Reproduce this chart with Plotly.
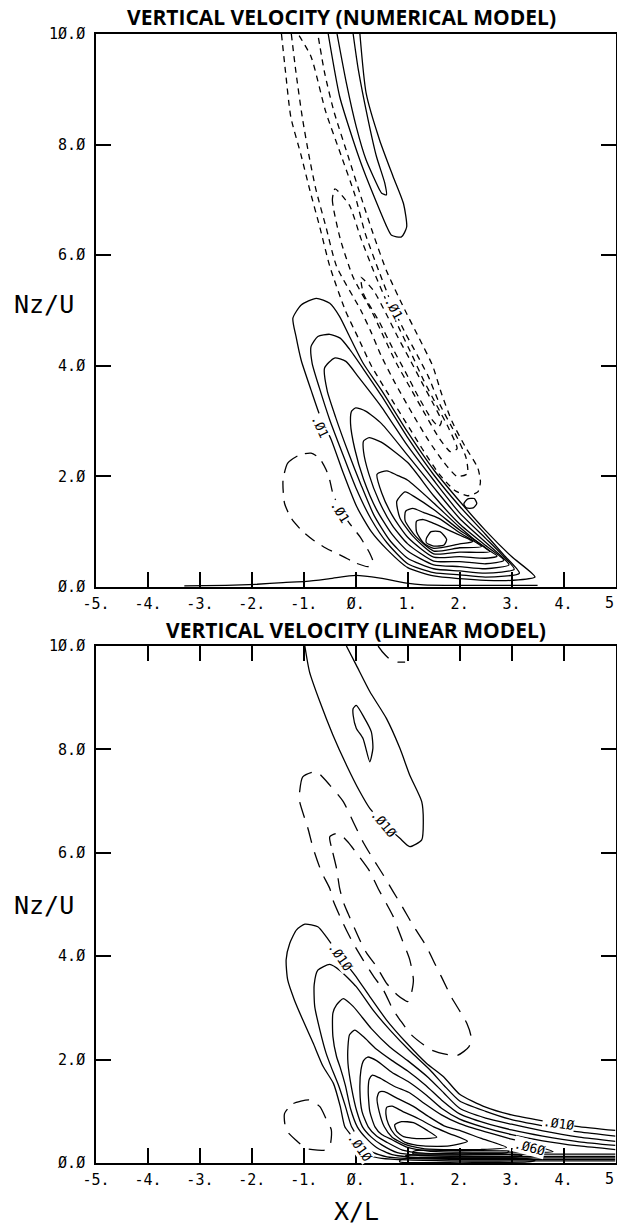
import plotly.graph_objects as go

# ---------------------------------------------------------------- axes text
X_TICK_VALS = [-5, -4, -3, -2, -1, 0, 1, 2, 3, 4, 5]
X_TICK_TEXT = ["-5.", "-4.", "-3.", "-2.", "-1.", "Ø.", "1.", "2.", "3.", "4.", "5"]
Y_TICK_VALS = [0, 2, 4, 6, 8, 10]
Y_TICK_TEXT = ["Ø.Ø", "2.Ø", "4.Ø", "6.Ø", "8.Ø", "1Ø.Ø"]

TITLE_NUM = "VERTICAL VELOCITY (NUMERICAL MODEL)"
TITLE_LIN = "VERTICAL VELOCITY (LINEAR MODEL)"

# ------------------------------------------- numerical model, contour lines
# (X/L, Nz/U) vertices of each traced isoline
NUM_UP_POS_OUTER = [(-0.53, 10.0), (-0.31, 8.87), (-0.05, 8.08), (0.15, 7.54), (0.41, 6.93),
                    (0.60, 6.51), (0.69, 6.36), (0.88, 6.33), (0.98, 6.51), (0.92, 6.93),
                    (0.72, 7.42), (0.46, 8.08), (0.20, 8.93), (0.08, 10.0)]
NUM_UP_POS_INNER = [(-0.36, 10.0), (-0.18, 9.11), (0.01, 8.32), (0.20, 7.72), (0.46, 7.18),
                    (0.50, 7.12), (0.59, 7.09), (0.56, 7.30), (0.40, 7.78), (0.24, 8.44),
                    (0.05, 9.35), (-0.05, 10.0)]

NUM_NEG_1 = [(-1.43, 10.0), (-1.35, 9.3), (-1.25, 8.5), (-1.05, 7.8), (-0.89, 7.2), (-0.69, 6.5),
             (-0.50, 5.8), (-0.20, 5.0), (0.05, 4.5), (0.30, 4.0), (0.62, 3.5), (0.95, 3.0),
             (1.28, 2.5), (1.60, 2.05), (1.90, 1.75), (2.15, 1.65), (2.35, 1.72), (2.40, 1.9),
             (2.35, 2.15), (2.10, 2.55), (1.85, 3.0), (1.65, 3.5), (1.48, 4.0), (1.22, 4.5),
             (0.95, 5.0), (0.60, 5.7), (0.33, 6.4), (0.12, 7.0), (-0.15, 7.8), (-0.42, 8.6),
             (-0.60, 9.3), (-0.73, 10.0)]
NUM_NEG_2 = [(-1.24, 10.0), (-1.15, 9.3), (-1.03, 8.5), (-0.90, 7.8), (-0.77, 7.2), (-0.57, 6.5),
             (-0.37, 5.8), (0.10, 5.0), (0.30, 4.6), (0.48, 4.2), (0.75, 3.7), (1.05, 3.2),
             (1.40, 2.65), (1.70, 2.25), (1.95, 2.0), (2.15, 2.05), (2.12, 2.35), (1.90, 2.8),
             (1.62, 3.3), (1.40, 3.8), (1.18, 4.2), (0.95, 4.6), (0.72, 5.05), (0.45, 5.7),
             (0.18, 6.4), (-0.02, 7.1), (-0.28, 7.8), (-0.58, 8.6), (-0.86, 9.59), (-1.11, 10.0)]
NUM_NEG_3 = [(-0.40, 7.2), (-0.45, 7.0), (-0.30, 6.3), (-0.05, 5.6), (0.30, 5.0), (0.55, 4.5),
             (0.78, 4.05), (1.05, 3.6), (1.32, 3.15), (1.60, 2.7), (1.82, 2.45), (1.95, 2.5),
             (1.80, 2.85), (1.55, 3.3), (1.30, 3.75), (1.08, 4.2), (0.85, 4.65), (0.60, 5.15),
             (0.35, 5.7), (0.10, 6.3), (-0.12, 6.9), (-0.40, 7.2)]
NUM_NEG_4 = [(0.10, 5.6), (0.15, 5.3), (0.45, 4.8), (0.72, 4.3), (0.95, 3.9), (1.20, 3.45),
             (1.45, 3.05), (1.60, 2.9), (1.65, 3.0), (1.50, 3.3), (1.30, 3.65), (1.05, 4.1),
             (0.82, 4.5), (0.58, 4.95), (0.35, 5.35), (0.10, 5.6)]
NUM_NEG_LOW = [(-1.40, 1.93), (-1.31, 2.24), (-1.08, 2.39), (-0.86, 2.42), (-0.70, 2.33),
               (-0.57, 2.12), (-0.50, 1.93), (-0.44, 1.69), (-0.30, 1.40), (-0.12, 1.15),
               (0.08, 0.91), (0.27, 0.61), (0.33, 0.46), (0.24, 0.37), (0.01, 0.43),
               (-0.24, 0.55), (-0.57, 0.70), (-0.82, 0.85), (-1.05, 1.03), (-1.24, 1.24),
               (-1.37, 1.51), (-1.40, 1.93)]
NUM_NEG_SMALL = [(2.08, 1.50), (2.15, 1.59), (2.28, 1.60), (2.33, 1.51), (2.26, 1.43),
                 (2.13, 1.43), (2.08, 1.50)]

NUM_LOW_1 = [(3.45, 0.18), (3.0, 0.12), (2.5, 0.12), (2.0, 0.15), (1.5, 0.20), (1.0, 0.35),
             (0.6, 0.68), (0.3, 1.0), (0.02, 1.45), (-0.24, 2.06), (-0.47, 2.66), (-0.69, 3.1),
             (-0.86, 3.56), (-1.05, 4.1), (-1.15, 4.53), (-1.21, 4.86), (-1.05, 5.1),
             (-0.76, 5.22), (-0.50, 5.13), (-0.31, 4.89), (-0.12, 4.53), (0.14, 4.05),
             (0.5, 3.55), (1.0, 2.8), (1.5, 2.12), (2.0, 1.55), (2.5, 1.02), (3.0, 0.55),
             (3.45, 0.18)]
NUM_LOW_2 = [(3.15, 0.25), (2.5, 0.18), (2.0, 0.22), (1.5, 0.26), (1.0, 0.42), (0.6, 0.80),
             (0.3, 1.22), (0.0, 1.8), (-0.25, 2.4), (-0.5, 3.02), (-0.7, 3.6), (-0.84, 4.05),
             (-0.86, 4.35), (-0.73, 4.53), (-0.5, 4.57), (-0.3, 4.5), (-0.12, 4.3), (0.14, 3.95),
             (0.5, 3.45), (1.0, 2.7), (1.5, 2.03), (2.0, 1.46), (2.5, 0.95), (2.85, 0.58),
             (3.15, 0.25)]
NUM_LOW_3 = [(3.05, 0.32), (2.5, 0.25), (2.0, 0.29), (1.5, 0.33), (1.0, 0.52), (0.65, 0.85),
             (0.35, 1.3), (0.1, 1.85), (-0.15, 2.45), (-0.38, 3.05), (-0.55, 3.55), (-0.6, 3.96),
             (-0.41, 4.14), (-0.19, 4.08), (0.05, 3.8), (0.5, 3.25), (1.0, 2.55), (1.5, 1.93),
             (2.0, 1.34), (2.5, 0.88), (2.8, 0.6), (3.05, 0.32)]
NUM_LOW_4 = [(2.95, 0.4), (2.5, 0.33), (2.0, 0.37), (1.5, 0.40), (1.0, 0.65), (0.7, 0.95),
             (0.4, 1.4), (0.15, 1.95), (-0.02, 2.5), (-0.1, 2.95), (-0.08, 3.18), (0.0, 3.24),
             (0.19, 3.18), (0.5, 2.95), (1.0, 2.38), (1.5, 1.8), (2.0, 1.24), (2.5, 0.81),
             (2.75, 0.6), (2.95, 0.4)]
NUM_LOW_5 = [(2.85, 0.48), (2.5, 0.42), (2.0, 0.46), (1.5, 0.47), (1.0, 0.78), (0.7, 1.12),
             (0.45, 1.55), (0.25, 2.05), (0.15, 2.45), (0.15, 2.64), (0.26, 2.7), (0.49, 2.62),
             (1.0, 2.25), (1.5, 1.65), (2.0, 1.14), (2.5, 0.75), (2.85, 0.48)]
NUM_LOW_6 = [(2.72, 0.56), (2.5, 0.52), (2.0, 0.55), (1.5, 0.54), (1.0, 0.90), (0.7, 1.3),
             (0.5, 1.7), (0.41, 2.04), (0.6, 2.1), (0.8, 2.02), (1.0, 1.93), (1.5, 1.52),
             (2.0, 1.08), (2.5, 0.70), (2.72, 0.56)]
NUM_LOW_7 = [(2.58, 0.64), (2.0, 0.63), (1.5, 0.60), (1.1, 0.92), (0.85, 1.25), (0.79, 1.55),
             (0.95, 1.72), (1.15, 1.62), (1.5, 1.40), (2.0, 1.03), (2.3, 0.84), (2.58, 0.64)]
NUM_LOW_8 = [(2.42, 0.73), (2.0, 0.71), (1.5, 0.65), (1.15, 0.92), (0.95, 1.2), (0.96, 1.37),
             (1.1, 1.42), (1.3, 1.35), (1.6, 1.24), (2.0, 0.98), (2.42, 0.73)]
NUM_LOW_9 = [(2.25, 0.82), (2.0, 0.78), (1.5, 0.70), (1.3, 0.80), (1.17, 1.0), (1.17, 1.19),
             (1.3, 1.22), (1.5, 1.15), (1.85, 1.0), (2.25, 0.82)]
NUM_LOW_CORE = [(1.36, 0.88), (1.45, 1.0), (1.62, 1.0), (1.75, 0.86), (1.70, 0.76), (1.50, 0.74),
                (1.36, 0.80), (1.36, 0.88)]
NUM_SURFACE = [(-3.3, 0.02), (-2.5, 0.03), (-1.9, 0.05), (-1.4, 0.08), (-0.95, 0.10),
               (-0.5, 0.15), (0.0, 0.21), (0.47, 0.16), (0.98, 0.07), (1.3, 0.04), (2.0, 0.03),
               (3.0, 0.03), (3.5, 0.03)]

# ---------------------------------------------- linear model, contour lines
LIN_UP_POS_OUTER = [(-0.98, 10.0), (-0.89, 9.5), (-0.69, 8.92), (-0.44, 8.28), (-0.18, 7.7),
                    (0.08, 7.18), (0.27, 6.86), (0.55, 6.56), (0.85, 6.28), (1.04, 6.12),
                    (1.27, 6.25), (1.30, 6.6), (1.27, 6.99), (1.04, 7.5), (0.85, 8.02),
                    (0.59, 8.6), (0.27, 9.12), (0.01, 9.63), (-0.18, 10.0)]
LIN_UP_POS_INNER = [(-0.05, 8.79), (0.01, 8.85), (0.17, 8.6), (0.30, 8.34), (0.33, 8.02),
                    (0.27, 7.76), (0.14, 8.21), (0.01, 8.41), (-0.05, 8.66), (-0.05, 8.79)]
LIN_NEG_TOP = [(0.43, 10.0), (0.52, 9.88), (0.65, 9.75), (0.80, 9.69), (0.95, 9.69)]
LIN_NEG_OUTER = [(-0.76, 7.57), (-1.02, 7.47), (-1.08, 7.18), (-1.08, 6.99), (-0.92, 6.47),
                 (-0.82, 6.09), (-0.66, 5.63), (-0.50, 5.31), (-0.44, 5.09), (-0.24, 4.63),
                 (-0.05, 4.25), (0.14, 3.93), (0.35, 3.6), (0.53, 3.35), (0.72, 2.96),
                 (0.85, 2.77), (1.07, 2.48), (1.47, 2.18), (1.95, 2.08), (2.18, 2.25),
                 (2.22, 2.44), (2.14, 2.7), (1.84, 3.21), (1.65, 3.6), (1.52, 3.86), (1.36, 4.19),
                 (1.10, 4.6), (0.90, 4.95), (0.72, 5.25), (0.53, 5.57), (0.33, 5.89),
                 (0.14, 6.21), (-0.05, 6.6), (-0.24, 6.99), (-0.50, 7.31), (-0.76, 7.57)]
LIN_NEG_INNER = [(-0.50, 6.31), (-0.44, 6.0), (-0.37, 5.7), (-0.31, 5.31), (-0.24, 5.05),
                 (-0.15, 4.83), (0.08, 4.31), (0.21, 4.06), (0.40, 3.8), (0.59, 3.48),
                 (0.80, 3.25), (0.94, 3.15), (1.00, 3.12), (1.07, 3.28), (1.11, 3.54),
                 (1.04, 3.93), (0.88, 4.35), (0.72, 4.77), (0.60, 5.0), (0.43, 5.31),
                 (0.27, 5.64), (0.04, 5.96), (-0.15, 6.21), (-0.34, 6.38), (-0.50, 6.31)]
LIN_NEG_LOW = [(-1.37, 0.96), (-1.20, 1.15), (-0.89, 1.22), (-0.69, 1.09), (-0.56, 0.83),
               (-0.47, 0.64), (-0.50, 0.32), (-0.60, 0.25), (-0.95, 0.28), (-1.15, 0.44),
               (-1.34, 0.64), (-1.37, 0.96)]

LIN_LOW_1 = [(5.0, 0.04), (3.5, 0.04), (2.0, 0.04), (1.0, 0.06), (0.5, 0.09), (0.27, 0.14),
             (0.05, 0.32), (-0.1, 0.55), (-0.21, 0.7), (-0.3, 1.1), (-0.43, 1.54), (-0.63, 1.87),
             (-0.82, 2.32), (-1.02, 2.77), (-1.18, 3.15), (-1.31, 3.54), (-1.34, 3.93),
             (-1.27, 4.25), (-1.14, 4.51), (-0.98, 4.62), (-0.73, 4.57), (-0.57, 4.38),
             (-0.3, 4.0), (-0.02, 3.64), (0.27, 3.22), (0.59, 2.77), (0.98, 2.32), (1.36, 1.93),
             (1.69, 1.67), (2.0, 1.33), (2.5, 1.08), (3.0, 0.93), (3.57, 0.82), (4.25, 0.71),
             (5.0, 0.63)]
LIN_LOW_2 = [(5.0, 0.07), (3.5, 0.07), (2.0, 0.07), (1.0, 0.09), (0.6, 0.12), (0.3, 0.22),
             (0.1, 0.42), (-0.08, 0.7), (-0.2, 1.1), (-0.33, 1.5), (-0.47, 1.85), (-0.57, 2.12),
             (-0.69, 2.57), (-0.79, 3.03), (-0.80, 3.45), (-0.73, 3.73), (-0.5, 3.84),
             (-0.3, 3.72), (0.01, 3.41), (0.33, 2.96), (0.66, 2.57), (1.04, 2.17), (1.43, 1.8),
             (1.7, 1.5), (2.0, 1.2), (2.5, 1.0), (3.0, 0.84), (3.6, 0.72), (4.3, 0.6),
             (5.0, 0.52)]
LIN_LOW_3 = [(5.0, 0.10), (3.5, 0.10), (2.0, 0.10), (1.0, 0.12), (0.7, 0.16), (0.4, 0.3),
             (0.2, 0.48), (0.03, 0.7), (-0.1, 1.05), (-0.2, 1.5), (-0.3, 1.85), (-0.37, 2.06),
             (-0.44, 2.45), (-0.44, 2.9), (-0.37, 3.06), (-0.24, 3.18), (-0.05, 3.03),
             (0.3, 2.6), (0.65, 2.25), (1.0, 1.98), (1.4, 1.65), (1.7, 1.35), (2.0, 1.06),
             (2.5, 0.87), (3.0, 0.75), (3.6, 0.62), (4.3, 0.5), (5.0, 0.42)]
LIN_LOW_4 = [(5.0, 0.13), (3.5, 0.13), (2.0, 0.13), (1.2, 0.15), (0.8, 0.2), (0.5, 0.35),
             (0.3, 0.5), (0.13, 0.7), (0.02, 1.0), (-0.08, 1.45), (-0.15, 1.93), (-0.15, 2.25),
             (-0.12, 2.48), (-0.02, 2.57), (0.14, 2.45), (0.4, 2.2), (0.7, 1.98), (1.0, 1.78),
             (1.35, 1.5), (1.65, 1.22), (2.0, 0.95), (2.5, 0.77), (3.0, 0.64), (3.6, 0.52),
             (4.3, 0.41), (5.0, 0.34)]
LIN_LOW_5 = [(5.0, 0.17), (3.5, 0.17), (2.0, 0.17), (1.3, 0.19), (0.9, 0.25), (0.6, 0.4),
             (0.4, 0.52), (0.24, 0.7), (0.12, 1.0), (0.08, 1.4), (0.1, 1.8), (0.15, 1.98),
             (0.23, 2.05), (0.4, 1.98), (0.7, 1.75), (1.0, 1.58), (1.35, 1.32), (1.65, 1.06),
             (2.0, 0.85), (2.5, 0.68), (3.0, 0.55), (3.6, 0.43), (4.3, 0.33), (5.0, 0.26)]
LIN_LOW_6 = [(3.8, 0.22), (3.0, 0.21), (2.0, 0.21), (1.4, 0.23), (1.0, 0.3), (0.7, 0.45),
             (0.5, 0.55), (0.37, 0.7), (0.27, 1.0), (0.24, 1.4), (0.26, 1.62), (0.32, 1.7),
             (0.45, 1.65), (0.75, 1.48), (1.05, 1.35), (1.35, 1.13), (1.65, 0.93), (2.0, 0.76),
             (2.5, 0.6), (3.0, 0.46), (3.4, 0.35), (3.8, 0.22)]
LIN_LOW_7 = [(2.9, 0.30), (2.4, 0.26), (1.8, 0.26), (1.3, 0.28), (0.95, 0.36), (0.7, 0.5),
             (0.55, 0.7), (0.45, 1.0), (0.41, 1.25), (0.45, 1.37), (0.55, 1.38), (0.8, 1.25),
             (1.1, 1.1), (1.4, 0.9), (1.7, 0.72), (2.0, 0.63), (2.4, 0.48), (2.9, 0.30)]
LIN_LOW_8 = [(2.15, 0.42), (1.8, 0.33), (1.3, 0.33), (0.95, 0.4), (0.75, 0.55), (0.63, 0.75),
             (0.58, 0.95), (0.6, 1.08), (0.7, 1.1), (0.9, 1.0), (1.2, 0.86), (1.5, 0.7),
             (1.8, 0.57), (2.15, 0.42)]
LIN_LOW_CORE = [(0.75, 0.74), (0.88, 0.80), (1.11, 0.78), (1.36, 0.64), (1.56, 0.50),
                (1.24, 0.47), (0.92, 0.51), (0.79, 0.61), (0.75, 0.74)]
# tightly packed isolines hugging the ground between X/L = 1 and 3.4
LIN_BAND_1 = [(0.85, 0.02), (2.0, 0.015), (3.3, 0.02), (3.45, 0.05), (3.3, 0.085),
              (2.0, 0.085), (1.0, 0.09), (0.85, 0.05), (0.85, 0.02)]
LIN_BAND_2 = [(1.0, 0.11), (2.0, 0.115), (3.1, 0.12), (3.2, 0.145), (3.0, 0.16), (2.0, 0.155),
              (1.0, 0.15), (0.95, 0.13), (1.0, 0.11)]
LIN_BAND_3 = [(1.1, 0.185), (2.0, 0.19), (2.9, 0.195), (2.95, 0.235), (2.0, 0.24),
              (1.2, 0.245), (1.1, 0.215), (1.1, 0.185)]

# contour labels: (x, y, text, rotation in degrees)
NUM_LABELS = [(-0.69, 2.90, ".Ø1", 65), (0.72, 5.05, ".Ø1", 62), (-0.31, 1.36, ".Ø1", 58)]
LIN_LABELS = [(0.53, 6.57, ".Ø1Ø", 50), (-0.30, 4.00, ".Ø1Ø", 55), (3.90, 0.77, ".Ø1Ø", 8),
              (3.35, 0.30, ".Ø6Ø", 15), (0.08, 0.30, ".Ø1Ø", 55)]

# ---------------------------------------------------------------- styling
INK = "black"
LW = 1.3
DASH_FINE = "6px,5px"
DASH_MID = "12px,8px"
DASH_LONG = "16px,10px"
MONO = "DejaVu Sans Mono"

fig = go.Figure()


def add_line(points, xref, yref, dash="solid"):
    xs = [p[0] for p in points]
    ys = [p[1] for p in points]
    fig.add_trace(go.Scatter(
        x=xs, y=ys, mode="lines", xaxis=xref, yaxis=yref,
        line=dict(color=INK, width=LW, dash=dash, shape="spline", smoothing=0.6),
        hoverinfo="skip", showlegend=False))


# top panel
for pts in [NUM_UP_POS_OUTER, NUM_UP_POS_INNER, NUM_LOW_1, NUM_LOW_2, NUM_LOW_3, NUM_LOW_4,
            NUM_LOW_5, NUM_LOW_6, NUM_LOW_7, NUM_LOW_8, NUM_LOW_9, NUM_LOW_CORE, NUM_SURFACE,
            NUM_NEG_SMALL]:
    add_line(pts, "x", "y")
for pts in [NUM_NEG_1, NUM_NEG_2, NUM_NEG_3, NUM_NEG_4]:
    add_line(pts, "x", "y", DASH_FINE)
add_line(NUM_NEG_LOW, "x", "y", DASH_MID)

# bottom panel
for pts in [LIN_UP_POS_OUTER, LIN_UP_POS_INNER, LIN_LOW_1, LIN_LOW_2, LIN_LOW_3, LIN_LOW_4,
            LIN_LOW_5, LIN_LOW_6, LIN_LOW_7, LIN_LOW_8, LIN_LOW_CORE, LIN_BAND_1, LIN_BAND_2,
            LIN_BAND_3]:
    add_line(pts, "x2", "y2")
for pts in [LIN_NEG_OUTER, LIN_NEG_INNER, LIN_NEG_LOW, LIN_NEG_TOP]:
    add_line(pts, "x2", "y2", DASH_LONG)

LABEL_FONT = dict(family=MONO, size=13, color=INK)
annotations = []
for (lx, ly, txt, ang) in NUM_LABELS:
    annotations.append(dict(x=lx, y=ly, xref="x", yref="y", text=txt, textangle=ang,
                            showarrow=False, bgcolor="white", borderpad=0, font=LABEL_FONT))
for (lx, ly, txt, ang) in LIN_LABELS:
    annotations.append(dict(x=lx, y=ly, xref="x2", yref="y2", text=txt, textangle=ang,
                            showarrow=False, bgcolor="white", borderpad=0, font=LABEL_FONT))

W, H = 617, 1229
TITLE_FONT = dict(family="Open Sans, sans-serif", size=21, color=INK)
AXIS_NAME_FONT = dict(family=MONO, size=25, color=INK)
TICK_FONT = dict(family=MONO, size=15, color=INK)


def paper_text(px, py, text, font, xanchor="center"):
    return dict(x=px / W, y=1 - py / H, xref="paper", yref="paper", text=text,
                xanchor=xanchor, yanchor="middle", showarrow=False, font=font)


annotations += [
    paper_text(342, 17, "<b>%s</b>" % TITLE_NUM, TITLE_FONT),
    paper_text(356, 630, "<b>%s</b>" % TITLE_LIN, TITLE_FONT),
    paper_text(44, 305, "Nz/U", AXIS_NAME_FONT),
    paper_text(44, 905, "Nz/U", AXIS_NAME_FONT),
    paper_text(356, 1211, "X/L", AXIS_NAME_FONT),
    # last x tick label sits against the right edge of the page
    paper_text(616, 603, X_TICK_TEXT[-1], TICK_FONT, xanchor="right"),
    paper_text(616, 1179, X_TICK_TEXT[-1], TICK_FONT, xanchor="right"),
]

X_DOMAIN = [96 / W, 615.5 / W]
axis_tick_text = X_TICK_TEXT[:-1] + [""]
common_x = dict(range=[-5, 5], tickvals=X_TICK_VALS, ticktext=axis_tick_text, ticks="inside",
                ticklen=15, tickwidth=1.5, tickcolor=INK, showline=True, linewidth=1.6,
                linecolor=INK, showgrid=False, zeroline=False, tickfont=TICK_FONT,
                domain=X_DOMAIN, ticklabeloverflow="allow", ticklabelstandoff=2)
common_y = dict(range=[0, 10], tickvals=Y_TICK_VALS, ticktext=Y_TICK_TEXT, ticks="inside",
                ticklen=15, tickwidth=1.5, tickcolor=INK, showline=True, linewidth=1.6,
                linecolor=INK, showgrid=False, zeroline=False, tickfont=TICK_FONT,
                mirror="ticks", ticklabelstandoff=6)

fig.update_layout(
    width=W, height=H,
    margin=dict(l=0, r=0, t=0, b=0, autoexpand=False),
    paper_bgcolor="white", plot_bgcolor="white",
    xaxis=dict(common_x, anchor="y", mirror=True),
    yaxis=dict(common_y, anchor="x", domain=[(H - 587) / H, (H - 34) / H]),
    xaxis2=dict(common_x, anchor="y2", mirror="ticks"),
    yaxis2=dict(common_y, anchor="x2", domain=[(H - 1163) / H, (H - 646) / H]),
    annotations=annotations,
    showlegend=False,
)

fig.write_html("out.html")
